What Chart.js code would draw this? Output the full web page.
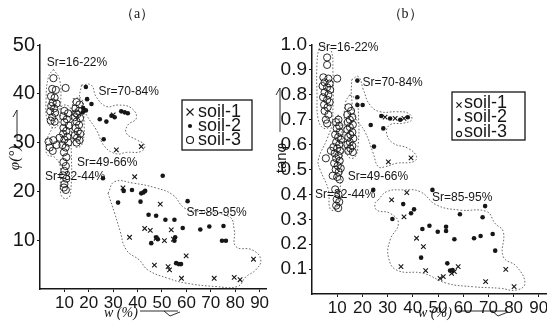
<!DOCTYPE html>
<html><head><meta charset="utf-8">
<script src="https://cdn.jsdelivr.net/npm/chart.js@4.4.0/dist/chart.umd.min.js"></script>
<style>
html,body{margin:0;padding:0;background:#fff;width:547px;height:326px;overflow:hidden;position:relative}
canvas{position:absolute;top:0}
#ca{left:0}
#cb{left:270px}
</style></head><body>
<canvas id="ca" width="272" height="326"></canvas>
<canvas id="cb" width="290" height="326"></canvas>
<script>
// ---------------- DATA: panel (a)  w (%) vs phi (deg) ----------------
const xTicksA = [10,20,30,40,50,60,70,80,90];
const yTicksA = [10,20,30,40,50];
const soil1A = [[31.3,28.5],[41.5,29.2],[38.8,23],[34,20.7],[49.3,17.4],[42.9,12.4],[45.2,12],[53.8,12.1],[36.7,10.6],[51,9.9],[54.7,10.2],[47.6,10.4],[46.9,4.9],[53.1,3.9],[52.5,4.6],[59.9,6.8],[58,2.2],[71.4,2.2],[79.6,2.4],[82,1.9],[87.5,6.1],[30,35.7]];
const soil2A = [[18.8,41.4],[19.3,38.9],[21.1,37.9],[17.7,37.1],[18.8,36.6],[17.5,36.2],[24.5,34.8],[27.2,34.3],[29.3,35.5],[30.6,35.2],[33.3,36.4],[34.7,36.2],[36,36],[26.1,30.7],[25.8,22.7],
  [50.3,23.2],[32,17.7],[34.3,20.1],[37.7,20.3],[41.5,19.6],[42.4,19.8],[43.1,20.1],[41.2,17.9],[44.5,15.2],[47.6,15],[51.4,14.2],[55.1,14.2],[58.5,12.5],[60.5,18],[65.7,12.2],[69.4,12.8],[75.2,12.9],[74.6,9.9],[76.2,9.9],[45.6,9.4],[47.6,10.6],[48.3,10.2],[55.4,10.6],[55.1,9.9],[55.8,5.3],[56.9,5.1],[57.8,5.1]];
const soil3A = [[5.5,43.2],[5,41],[6.5,40.8],[4.5,39.5],[6,39.2],[5.2,38.2],[6.8,38],[4.6,37.5],[5.8,37],[4.2,36.4],[6.2,36.1],[5,35.2],[4.4,34.5],[6,34.3],
  [3.5,30.2],[5.5,30.5],[4,29],[6.8,29.5],[8,31],[5.2,28.3],
  [10.5,41.2],[10,36.5],[11.5,36],[9.5,35.4],[11,34.8],[10,34.2],[11.8,33.5],[9.6,33],[10.8,32.4],[9.5,31.8],[11.2,31.2],[10,30.6],[11.6,30],[9.2,29.5],[10.5,29],[9.8,28],[10.8,27],[9.6,26],[10.6,25.2],[10,24.2],[9.4,23.3],[10.8,22.6],[10,21.5],[10.6,20.3],[9.8,20.8],
  [15,38.3],[16.2,37.8],[14.5,37],[16,36.5],[15.3,35.8],[14.2,35.2],[16.4,35],[15,34.3],[16,33.6],[14.6,33],[15.5,32.3],[16.5,31.8],[14.3,31.5],[15.2,31],[16.2,30.5],[15,30],[14.8,36]];
const contoursA = [
  [[5.5,45],[8,43],[8.5,38],[7.8,34],[5.5,33],[3,34.5],[2.5,39],[3.5,43.5],[5.5,45]],
  [[3,31],[6,34],[9,37.5],[12.5,37],[12.8,30],[12.5,19.5],[10.5,18.5],[8.5,19.5],[8.3,25],[6,27],[3,27.5],[2.5,29.5],[3,31]],
  [[13.5,39],[17,39],[18,35],[17.5,30],[15,29],[13.2,30.5],[13,35],[13.5,39]],
  [[17,41.8],[21,41.8],[23,39.4],[27.2,37.4],[32,37.7],[37.4,37.1],[39.5,35],[36,33.6],[35.4,31.9],[39.5,30.6],[42.9,29.5],[41.5,28.2],[35.4,28],[31.3,27.7],[26.5,29.2],[23.1,32.6],[19,35.7],[16.3,38.8],[17,41.8]],
  [[27.9,19.6],[30.6,22],[38.1,21.7],[47.6,20.7],[54.4,19.3],[59.2,16.6],[65.3,15.9],[77.6,14.8],[79.6,12.1],[80.3,8.7],[87.1,8],[90.5,6],[88.4,3.9],[84.4,2.5],[80.9,0.5],[72.1,0.5],[59.9,1.2],[52.4,2.2],[44.2,3.9],[40.8,5.9],[35.4,8],[32.7,12.1],[30.6,15.5],[27.9,19.6]]
];
const srTextA = ['Sr=16-22%','Sr=70-84%','Sr=49-66%','Sr=32-44%','Sr=85-95%'];

// ---------------- DATA: panel (b)  w (%) vs tan(phi) ----------------
const xTicksB = [10,20,30,40,50,60,70,80,90];
const yTicksB = [0.1,0.2,0.3,0.4,0.5,0.6,0.7,0.8,0.9,1.0];
const soil1B = [[37.6,0.407],[31.6,0.378],[36.5,0.31],[41.5,0.224],[44.2,0.19],[35.3,0.11],[45.1,0.094],[50.8,0.063],[52.1,0.07],[55.4,0.083],[56.5,0.09],[58,0.11],[68.9,0.05],[76.9,0.099],[80.2,0.03],[30.3,0.531],[39.3,0.547],[29,0.71],[33,0.705],[36.5,0.705]];
const soil2B = [[18,0.857],[18,0.79],[18,0.759],[20.1,0.759],[23.3,0.679],[28.3,0.665],[24.6,0.592],[27.5,0.715],[31,0.705],[35,0.70],[38,0.71],[24.3,0.418],
  [47.8,0.418],[36.2,0.361],[39.3,0.324],[40.5,0.34],[31.9,0.301],[68.7,0.353],[58.7,0.32],[67.7,0.308],[43.8,0.261],[46.6,0.274],[53.2,0.27],[53.2,0.253],[49.9,0.25],[56.5,0.22],[64.3,0.224],[66.9,0.233],[71.7,0.241],[72.7,0.174],[43.3,0.146],[53.7,0.123],[54.8,0.094],[55.8,0.096]];
const soil3B = [[6,0.95],[6,0.92],[4.5,0.87],[6.5,0.865],[5,0.85],[7,0.845],[4.2,0.835],[6,0.83],[7.2,0.82],[5,0.81],[6.5,0.8],[4.4,0.79],[6,0.78],[7,0.77],[4.8,0.76],[6.2,0.75],[5,0.735],[6.5,0.72],[5.5,0.7],[6,0.685],
  [10,0.865],
  [10.5,0.7],[9.5,0.69],[10.8,0.675],[9.8,0.665],[11,0.65],[9.2,0.64],[10.4,0.63],[11.5,0.62],[9.6,0.61],[10.8,0.6],[8.5,0.59],[10,0.585],[7.5,0.575],[11.2,0.575],[9,0.565],[10.5,0.555],[5.5,0.545],[9.6,0.545],[11,0.535],[8.8,0.525],[10.2,0.515],[11.4,0.505],[9.4,0.5],[10.6,0.49],[8.2,0.475],[10,0.47],[11,0.46],[9.2,0.42],[10.5,0.4],[9.8,0.38],[10.8,0.37],[9.6,0.355],[10.4,0.345],
  [14.5,0.75],[15.5,0.735],[14,0.72],[16,0.71],[15,0.7],[14.2,0.69],[16.2,0.68],[15,0.67],[14,0.66],[16,0.65],[15.2,0.64],[14.4,0.63],[16.4,0.625],[15,0.61],[14,0.6],[16,0.595],[15.2,0.585],[14.4,0.575],[16.2,0.57]];
const contoursB = [
  [[4.5,1.0],[7.5,0.98],[8.3,0.9],[8.3,0.75],[7.5,0.68],[4.8,0.665],[2.5,0.7],[2,0.8],[2,0.93],[3,0.99],[4.5,1.0]],
  [[10.4,0.72],[11.8,0.66],[11.8,0.5],[10.4,0.377],[9.1,0.337],[7.1,0.344],[6.5,0.418],[3.2,0.5],[2.5,0.538],[5.8,0.618],[8.5,0.686],[10.4,0.72]],
  [[15,0.8],[17.5,0.78],[18.5,0.7],[18.3,0.6],[17,0.55],[14.5,0.55],[13,0.6],[12.8,0.7],[13.3,0.77],[15,0.8]],
  [[15.7,0.86],[18.4,0.873],[20.4,0.82],[23,0.759],[27,0.732],[33.6,0.732],[38.2,0.726],[39.6,0.7],[36.2,0.686],[31,0.68],[29.6,0.645],[32.3,0.605],[38.2,0.585],[41.5,0.551],[40.2,0.531],[33.6,0.525],[29,0.511],[26.3,0.511],[24.3,0.565],[21,0.652],[17.1,0.712],[15.7,0.792],[15.7,0.86]],
  [[26.3,0.378],[29.6,0.411],[36.2,0.418],[42.9,0.411],[49.5,0.357],[58.7,0.337],[69.3,0.331],[72.6,0.284],[75.9,0.25],[75.9,0.15],[81.2,0.11],[84.5,0.043],[81.2,0.016],[74.6,0.023],[64,0.029],[53.5,0.043],[44.2,0.083],[33.6,0.096],[30.3,0.15],[31,0.217],[34.3,0.284],[31,0.324],[25.7,0.337],[25,0.364],[26.3,0.378]]
];
const srTextB = ['Sr=16-22%','Sr=70-84%','Sr=49-66%','Sr=32-44%','Sr=85-95%'];
const seriesNames = ['soil-1','soil-2','soil-3'];

// ---------------- rendering ----------------
const NARROW = "'Liberation Sans Narrow','Liberation Sans',sans-serif";
const INK = '#161616';
const pts = a => a.map(p => ({x:p[0], y:p[1]}));

function markDatasets(s1, s2, s3, r) {
  return [
    {label:seriesNames[0], kind:'x', data:pts(s1), pointStyle:'crossRot', pointRadius:r.x, borderColor:INK, pointBorderWidth:1.1, backgroundColor:INK},
    {label:seriesNames[1], kind:'dot', data:pts(s2), pointStyle:'circle', pointRadius:r.dot, borderColor:INK, pointBorderWidth:0, backgroundColor:INK},
    {label:seriesNames[2], kind:'o', data:pts(s3), pointStyle:'circle', pointRadius:r.o, borderColor:INK, pointBorderWidth:0.9, backgroundColor:'rgba(255,255,255,0)'}
  ];
}
function contourDatasets(list) {
  return list.map((c,i) => ({label:'contour'+i, kind:'contour', data:pts(c), showLine:true, pointRadius:0, borderColor:'#444', borderWidth:0.8, borderDash:[1.6,1.8], tension:0.45, fill:false}));
}
function drawMark(ctx, kind, x, y, r) {
  ctx.save();
  ctx.strokeStyle = INK; ctx.fillStyle = INK; ctx.lineWidth = 1.1;
  ctx.beginPath();
  if (kind === 'x') { ctx.moveTo(x-r,y-r); ctx.lineTo(x+r,y+r); ctx.moveTo(x+r,y-r); ctx.lineTo(x-r,y+r); ctx.stroke(); }
  else if (kind === 'dot') { ctx.arc(x,y,r*0.6,0,Math.PI*2); ctx.fill(); }
  else { ctx.arc(x,y,r,0,Math.PI*2); ctx.stroke(); }
  ctx.restore();
}

const decor = {
  id:'decor',
  afterDatasetsDraw(chart, args, o) {
    const ctx = chart.ctx, xs = chart.scales.x, ys = chart.scales.y;
    ctx.save();
    // Sr annotations
    ctx.fillStyle = INK; ctx.font = o.srFont; ctx.textBaseline = 'middle'; ctx.textAlign = 'left';
    o.srText.forEach((t,i) => ctx.fillText(t, xs.getPixelForValue(o.srAt[i][0]), ys.getPixelForValue(o.srAt[i][1])));
    // legend box
    const L = o.legend;
    ctx.strokeStyle = INK; ctx.lineWidth = 1.3;
    ctx.strokeRect(L.x, L.y, L.w, L.h);
    ctx.font = L.font;
    chart.data.datasets.filter(d => d.kind !== 'contour').forEach((d,i) => {
      const y = L.y + L.first + i*L.gap;
      drawMark(ctx, d.kind, L.x + L.mx, y + L.mdy, L.r);
      ctx.fillStyle = INK; ctx.fillText(d.label, L.x + L.tx, y);
    });
    // panel title
    ctx.font = "14px 'Liberation Serif',serif"; ctx.textAlign = 'center';
    ctx.fillText(o.title, o.titleX, 14);
    // y title (rotated) with arrow stroke
    ctx.save();
    ctx.translate(o.yt.x, o.yt.y); ctx.rotate(-Math.PI/2);
    ctx.font = o.yt.font; ctx.textAlign = 'center'; ctx.textBaseline = 'middle';
    ctx.fillText(o.yt.text, 0, 0);
    ctx.restore();
    ctx.lineWidth = 0.9; ctx.beginPath();
    ctx.moveTo(o.yt.ax, o.yt.a0); ctx.lineTo(o.yt.ax, o.yt.a1); ctx.lineTo(o.yt.ax-4, o.yt.a1+7);
    ctx.stroke();
    // x title with arrow stroke
    ctx.font = "italic 14px 'Liberation Serif',serif"; ctx.textAlign = 'left'; ctx.textBaseline = 'middle';
    ctx.fillText(o.xt.text, o.xt.x, o.xt.y);
    ctx.beginPath();
    ctx.moveTo(o.xt.a0, o.xt.y - 2); ctx.lineTo(o.xt.a1, o.xt.y - 2);
    ctx.moveTo(o.xt.a1 - 14, o.xt.y - 2); ctx.lineTo(o.xt.a1 - 8, o.xt.y + 3); ctx.lineTo(o.xt.a1 + 2, o.xt.y - 1);
    ctx.stroke();
    ctx.restore();
  }
};

function axisX(ticksList, max, h) {
  return {type:'linear', min:0, max:max,
    afterBuildTicks: s => { s.ticks = ticksList.map(v => ({value:v})); },
    ticks:{autoSkip:false, maxRotation:0, color:INK, padding:1, font:{family:NARROW, size:17}},
    grid:{drawOnChartArea:false, color:INK, tickLength:3, lineWidth:1},
    border:{color:INK, width:1.5},
    afterFit: s => { s.height = h; }};
}
function axisY(ticksList, max, w, size, fmt) {
  return {type:'linear', min:0, max:max,
    afterBuildTicks: s => { s.ticks = ticksList.map(v => ({value:v})); },
    ticks:{autoSkip:false, color:INK, padding:2, font:{family:NARROW, size:size}, callback: fmt},
    grid:{drawOnChartArea:false, color:INK, tickLength:3, lineWidth:1},
    border:{color:INK, width:1.5},
    afterFit: s => { s.width = w; }};
}

const common = {responsive:false, animation:false, events:[], devicePixelRatio:1};

new Chart(document.getElementById('ca'), {
  type:'scatter',
  data:{datasets:[...markDatasets(soil1A, soil2A, soil3A, {x:3.2, dot:2.3, o:3.6}), ...contourDatasets(contoursA)]},
  options:{...common,
    layout:{padding:{top:45, left:0, right:4, bottom:0}},
    scales:{x:axisX(xTicksA, 93, 37), y:axisY(yTicksA, 50, 40, 20, v => String(v))},
    plugins:{legend:{display:false}, tooltip:{enabled:false},
      decor:{srText:srTextA, srAt:[[2.8,46.4],[24,40.4],[15.2,25.8],[2,23],[60,15.6]], srFont:"12px "+NARROW,
        legend:{x:182, y:100, w:70, h:50, first:12, gap:14, mx:8, mdy:0, r:3.5, tx:16, font:"18px 'Liberation Sans',sans-serif"},
        title:'（a）', titleX:137,
        yt:{text:'φ(°)', x:15, y:158, font:"italic 15px 'Liberation Serif',serif", ax:17, a0:141, a1:110},
        xt:{text:'w (%)', x:104, y:313, a0:140, a1:178}}}},
  plugins:[decor]
});

new Chart(document.getElementById('cb'), {
  type:'scatter',
  data:{datasets:[...markDatasets(soil1B, soil2B, soil3B, {x:3.2, dot:2.3, o:3.6}), ...contourDatasets(contoursB)]},
  options:{...common,
    layout:{padding:{top:45, left:0, right:290-42-93*2.52, bottom:0}},
    scales:{x:axisX(xTicksB, 93, 32), y:axisY(yTicksB, 1.0, 42, 19, v => v.toFixed(1))},
    plugins:{legend:{display:false}, tooltip:{enabled:false},
      decor:{srText:srTextB, srAt:[[2.4,0.99],[20,0.847],[14.2,0.47],[1.2,0.40],[47.6,0.385]], srFont:"12px "+NARROW,
        legend:{x:182, y:92, w:73, h:48, first:11, gap:14.5, mx:7, mdy:2, r:2.6, tx:12, font:"18px 'Liberation Sans',sans-serif"},
        title:'（b）', titleX:135,
        yt:{text:'tanφ', x:12, y:158, font:"15px 'Liberation Sans',sans-serif", ax:10, a0:132, a1:88},
        xt:{text:'w (%)', x:148, y:313, a0:186, a1:236}}}},
  plugins:[decor]
});
</script>
</body></html>
